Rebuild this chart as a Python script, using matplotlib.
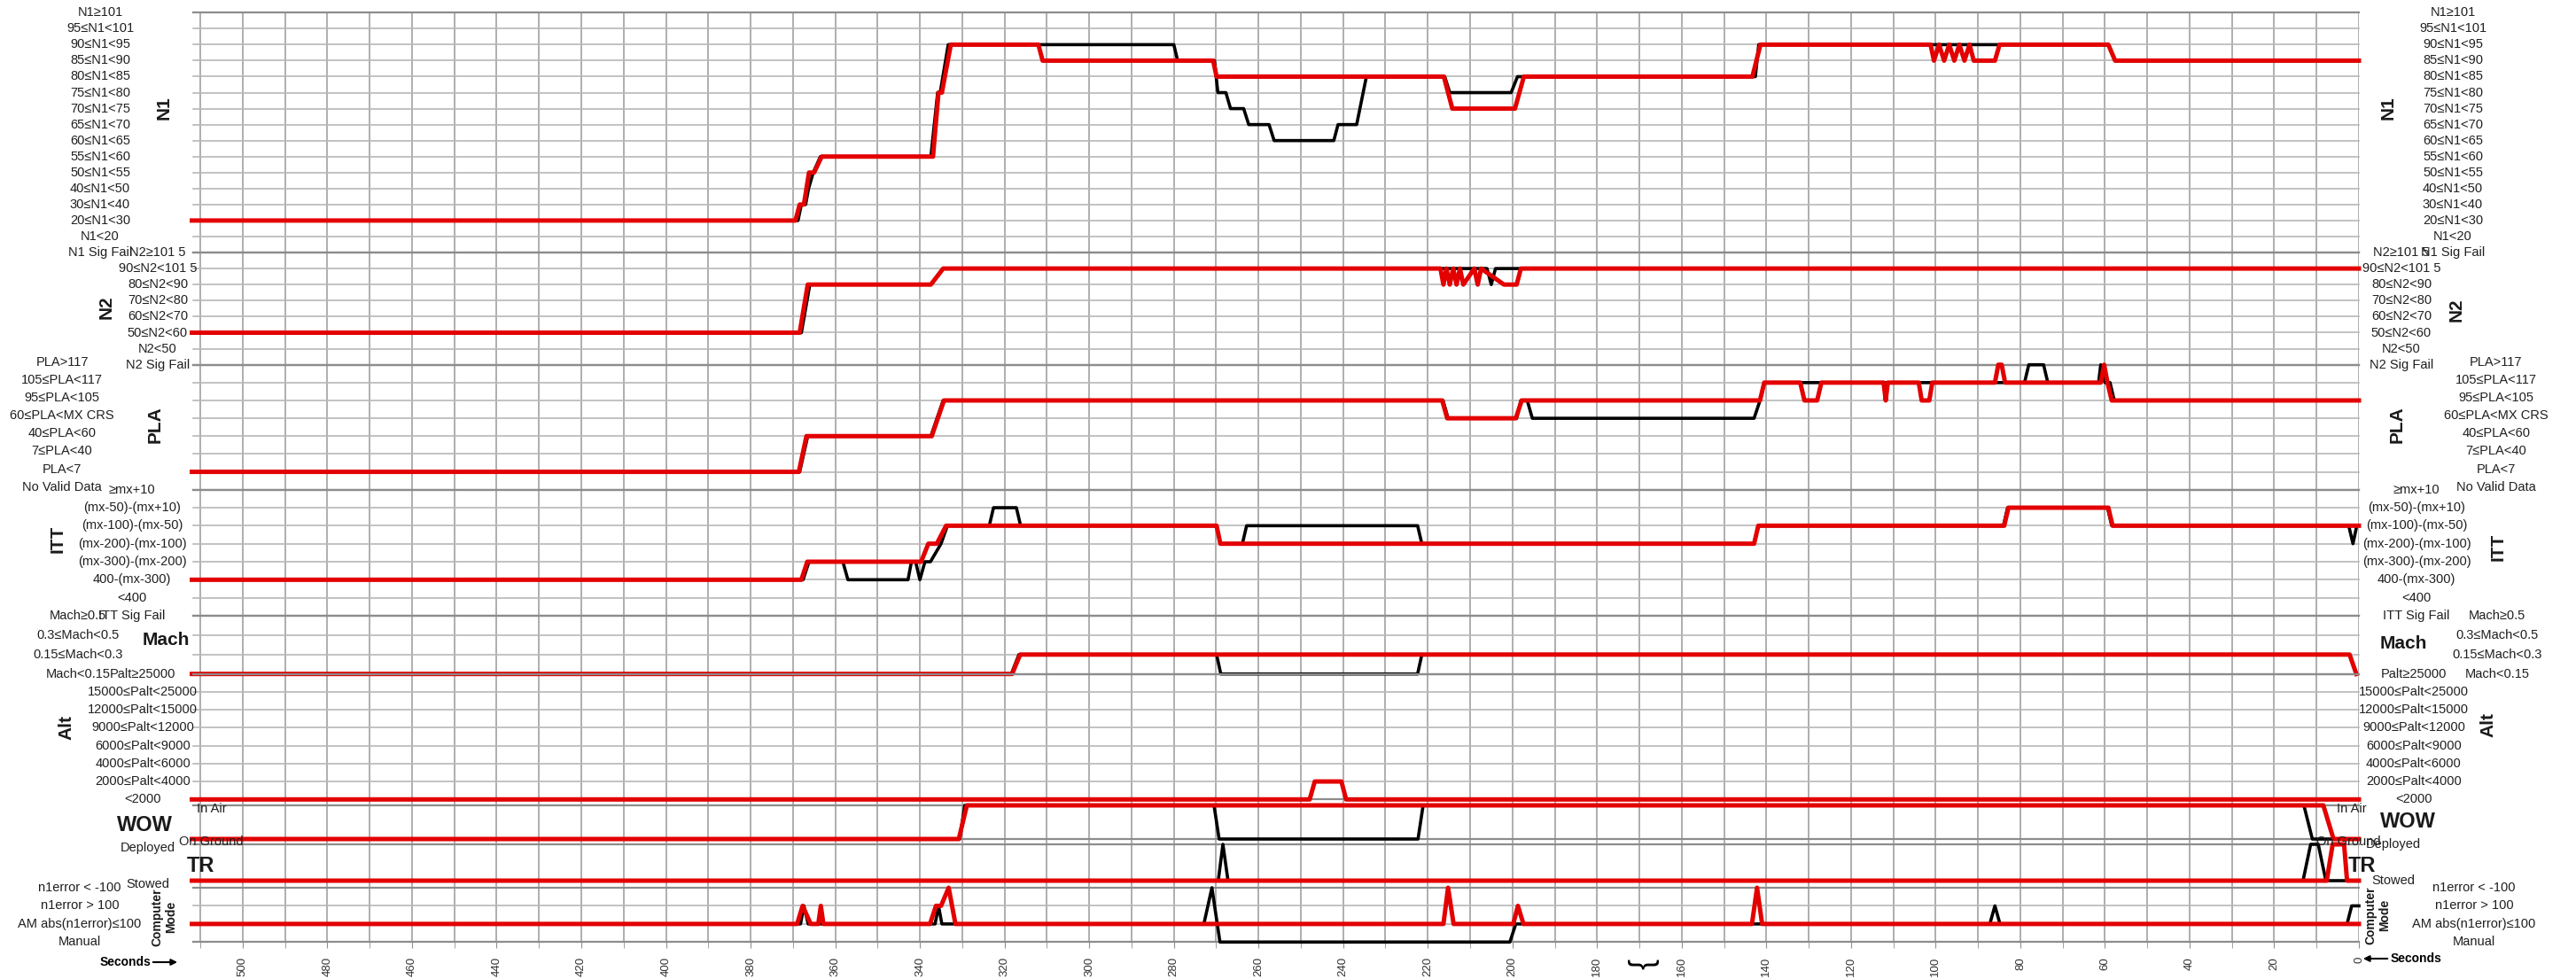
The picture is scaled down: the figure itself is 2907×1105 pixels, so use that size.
import numpy as np
import matplotlib
matplotlib.use('Agg')
import matplotlib.pyplot as plt
from matplotlib.transforms import blended_transform_factory

W, H = 2907, 1105
FONT = ['Liberation Sans Narrow', 'Liberation Sans', 'DejaVu Sans']
plt.rcParams['font.family'] = FONT

# ---------------- data: (seconds, level index, 0 = bottom row) ----------------
n1_black_t = [512, 368.8, 368.0, 367.0, 366.3, 365.2, 363.5, 337.4, 335.8, 335.2, 333.3, 280.0, 279.1,
              270.4, 269.6, 267.7, 266.6, 263.5, 262.3, 257.5, 256.3, 242.2, 241.2, 236.8, 234.5,
              216.0, 214.8, 200.3, 198.8, 142.6, 141.8, 59.2, 57.6, 0]
n1_black_v = [2, 2, 3, 3, 4, 5, 6, 6, 10, 10, 13, 13, 12,
              12, 10, 10, 9, 9, 8, 8, 7, 7, 8, 8, 11,
              11, 10, 10, 11, 11, 13, 13, 12, 12]
n1_red_t = [512, 369.4, 368.4, 367.4, 366.2, 365.0, 363.2, 336.9, 335.6, 334.8, 332.7, 312.0, 311.0,
            270.7, 269.9, 216.2, 214.2, 199.4, 197.3, 143.3, 141.4, 101.2, 100.4, 99.2, 98.0,
            96.8, 95.6, 94.4, 93.2, 92.0, 91.0, 87.6, 86.0, 84.9, 59.2, 57.6, 0]
n1_red_v = [2, 2, 3, 3, 5, 5, 6, 6, 10, 10, 13, 13, 12,
            12, 11, 11, 9, 9, 11, 11, 13, 13, 12, 13, 12,
            13, 12, 13, 12, 13, 12, 12, 12, 13, 13, 12, 12]

n2_black_t = [512, 368.0, 366.0, 337.4, 334.5, 206.0, 205.0, 204.0, 0]
n2_black_v = [2, 2, 5, 5, 6, 6, 5, 6, 6]
n2_red_t = [512, 368.4, 366.5, 337.4, 334.5, 217.0, 216.3, 215.6, 214.8, 214.0, 213.2, 212.4, 211.6,
            209.0, 208.2, 207.4, 202.0, 199.0, 198.0, 0]
n2_red_v = [2, 2, 5, 5, 6, 6, 5, 6, 5, 6, 5, 6, 5,
            6, 5, 6, 5, 5, 6, 6]

pla_black_t = [512, 368.4, 366.5, 337.4, 334.5, 216.4, 215.2, 199.0, 198.0, 196.5, 195.3, 142.9, 141.5,
               140.5, 79.0, 78.0, 74.5, 73.5, 61.5, 61.0, 60.0, 58.8, 57.8, 0]
pla_black_v = [1, 1, 3, 3, 5, 5, 4, 4, 5, 5, 4, 4, 5,
               6, 6, 7, 7, 6, 6, 7, 6, 6, 5, 5]
pla_red_t = [512, 368.6, 366.8, 337.2, 334.3, 216.6, 215.4, 199.2, 197.8, 142.9, 141.5, 140.5,
             132.0, 131.0, 128.0, 127.0, 112.3, 111.8, 111.3, 104.0, 103.3, 101.5, 100.8,
             86.0, 85.2, 84.4, 83.6, 61.0, 60.2, 59.4, 58.4, 0]
pla_red_v = [1, 1, 3, 3, 5, 5, 4, 4, 5, 5, 5, 6,
             6, 5, 5, 6, 6, 5, 6, 6, 5, 5, 6,
             6, 7, 7, 6, 6, 7, 6, 5, 5]

itt_black_t = [512, 367.6, 366.2, 358.2, 357.0, 342.8, 342.0, 341.0, 340.0, 338.8, 337.5, 335.0, 333.5,
               323.6, 322.6, 317.2, 316.2, 269.9, 269.0, 263.8, 262.8, 222.4, 221.4, 142.9, 141.9,
               84.0, 83.0, 59.4, 58.4, 2.4, 1.4, 0.5]
itt_black_v = [2, 2, 3, 3, 2, 2, 3, 3, 2, 3, 3, 4, 5,
               5, 6, 6, 5, 5, 4, 4, 5, 5, 4, 4, 5,
               5, 6, 6, 5, 5, 4, 5]
itt_red_t = [512, 368.0, 366.6, 339.7, 338.0, 336.0, 333.8, 269.9, 269.0, 142.9, 141.9, 83.8, 82.8,
             59.2, 58.2, 0]
itt_red_v = [2, 2, 3, 3, 4, 4, 5, 5, 4, 4, 5, 5, 6,
             6, 5, 5]

mach_black_t = [512, 318.4, 316.6, 269.9, 268.9, 222.4, 221.4, 2.2, 0.6]
mach_black_v = [0, 0, 1, 1, 0, 0, 1, 1, 0]
mach_red_t = [512, 318.2, 316.3, 2.2, 0.6]
mach_red_v = [0, 0, 1, 1, 0]

alt_black_t = [512, 247.9, 246.7, 240.4, 239.3, 0]
alt_black_v = [0, 0, 1, 1, 0, 0]
alt_red_t = [512, 247.9, 246.7, 240.4, 239.3, 0]
alt_red_v = [0, 0, 1, 1, 0, 0]

wow_black_t = [512, 330.6, 329.4, 270.5, 269.3, 222.3, 221.1, 13.0, 11.0, 0]
wow_black_v = [0, 0, 1, 1, 0, 0, 1, 1, 0, 0]
wow_red_t = [512, 330.8, 328.9, 8.4, 6.0, 0]
wow_red_v = [0, 0, 1, 1, 0, 0]

tr_black_t = [512, 269.5, 268.4, 267.2, 13.2, 11.4, 9.6, 7.8, 0]
tr_black_v = [0, 0, 1, 0, 0, 1, 1, 0, 0]
tr_red_t = [512, 7.6, 6.2, 3.5, 2.8, 0]
tr_red_v = [0, 0, 1, 1, 0, 0]

cm_black_t = [512, 368.2, 367.4, 366.4, 336.4, 335.6, 334.8, 272.9, 271.0, 269.1, 200.6, 199.2,
              87.2, 86.0, 84.8, 2.8, 1.7, 0]
cm_black_v = [1, 1, 2, 1, 1, 2, 1, 1, 3, 0, 0, 1,
              1, 2, 1, 1, 2, 2]
cm_red_t = [512, 369.0, 367.7, 365.8, 364.0, 363.4, 362.8, 337.6, 336.2, 335.0, 333.2, 331.6,
            216.3, 215.2, 213.9, 199.8, 198.7, 197.4, 143.4, 142.2, 141.0, 0]
cm_red_v = [1, 1, 2, 1, 1, 2, 1, 1, 2, 2, 3, 1,
            1, 3, 1, 1, 2, 1, 1, 3, 1, 1]

n1_labels = ['N1≥101', '95≤N1<101', '90≤N1<95', '85≤N1<90', '80≤N1<85', '75≤N1<80', '70≤N1<75',
             '65≤N1<70', '60≤N1<65', '55≤N1<60', '50≤N1<55', '40≤N1<50', '30≤N1<40', '20≤N1<30',
             'N1<20', 'N1 Sig Fail']
n2_labels = ['N2≥101 5', '90≤N2<101 5', '80≤N2<90', '70≤N2<80', '60≤N2<70', '50≤N2<60', 'N2<50',
             'N2 Sig Fail']
pla_labels = ['PLA>117', '105≤PLA<117', '95≤PLA<105', '60≤PLA<MX CRS', '40≤PLA<60', '7≤PLA<40',
              'PLA<7', 'No Valid Data']
itt_labels = ['≥mx+10', '(mx-50)-(mx+10)', '(mx-100)-(mx-50)', '(mx-200)-(mx-100)',
              '(mx-300)-(mx-200)', '400-(mx-300)', '<400', 'ITT Sig Fail']
mach_labels = ['Mach≥0.5', '0.3≤Mach<0.5', '0.15≤Mach<0.3', 'Mach<0.15']
alt_labels = ['Palt≥25000', '15000≤Palt<25000', '12000≤Palt<15000', '9000≤Palt<12000',
              '6000≤Palt<9000', '4000≤Palt<6000', '2000≤Palt<4000', '<2000']
tr_labels = ['Deployed', 'Stowed']
cm_labels = ['n1error < -100', 'n1error > 100', 'AM abs(n1error)≤100', 'Manual']

# ---------------- layout (figure pixels, y from top) ----------------
X0, X1 = 218, 2662
XLIM = (511.7, 0)
LBL = 10.5
fig = plt.figure(figsize=(W / 100, H / 100), dpi=100)


def fy(y):
    return 1 - y / H


# background axes holding the vertical grid and the seconds axis
bg = fig.add_axes([X0 / W, fy(1063.3), (X1 - X0) / W, (1063.3 - 14.3) / H])
bg.set_xlim(*XLIM)
bg.set_ylim(0, 1)
bg.set_xticks(np.arange(500, -1, -20))
bg.set_xticks(np.arange(510, 0, -20), minor=True)
bg.set_xticklabels([str(v) for v in range(500, -1, -20)], rotation=90, fontsize=9.5,
                   family=['Liberation Sans', 'DejaVu Sans'], color='#333333')
bg.tick_params(axis='x', which='both', length=5, color='#909090', pad=7)
bg.set_yticks([])
bg.grid(axis='x', which='both', color='#a8a8a8', lw=1.3)
for s in bg.spines.values():
    s.set_visible(False)


def panel(top, bot, n, bt, bv, rt, rv):
    ax = fig.add_axes([X0 / W, fy(bot), (X1 - X0) / W, (bot - top) / H])
    ax.set_xlim(*XLIM)
    ax.set_ylim(0, n - 1)
    ax.patch.set_alpha(0)
    ax.axis('off')
    for k in range(n):
        edge = k in (0, n - 1)
        ax.axhline(k, color='#8c8c8c' if edge else '#b8b8b8', lw=1.6 if edge else 1.2, zorder=1,
                   clip_on=False)
    ax.plot(bt, bv, color='black', lw=2.6, clip_on=False, zorder=3)
    ax.plot(rt, rv, color='#e30000', lw=3.6, clip_on=False, zorder=4)
    return ax


def labels(ax, texts, cx, size=LBL, dy=0):
    tr = blended_transform_factory(fig.transFigure, ax.transData)
    n = len(texts)
    for i, t in enumerate(texts):
        ax.text(cx / W, n - 1 - i + dy, t, transform=tr, ha='center', va='center', fontsize=size,
                color='#1f1f1f', clip_on=False)


def title(x, y, t, rot=90, size=15):
    fig.text(x / W, fy(y), t, rotation=rot, ha='center', va='center', fontsize=size,
             fontweight='bold', color='#1a1a1a')


a_n1 = panel(14.3, 285, 16, n1_black_t, n1_black_v, n1_red_t, n1_red_v)
a_n2 = panel(285, 411.7, 8, n2_black_t, n2_black_v, n2_red_t, n2_red_v)
a_pla = panel(411.7, 552.7, 8, pla_black_t, pla_black_v, pla_red_t, pla_red_v)
a_itt = panel(552.7, 695, 8, itt_black_t, itt_black_v, itt_red_t, itt_red_v)
a_mach = panel(695, 760.7, 4, mach_black_t, mach_black_v, mach_red_t, mach_red_v)
a_alt = panel(760.7, 902.3, 8, alt_black_t, alt_black_v, alt_red_t, alt_red_v)
a_wow = panel(909, 947, 2, wow_black_t, wow_black_v, wow_red_t, wow_red_v)
a_tr = panel(953, 994, 2, tr_black_t, tr_black_v, tr_red_t, tr_red_v)
a_cm = panel(1002, 1063.3, 4, cm_black_t, cm_black_v, cm_red_t, cm_red_v)

# left-hand row labels
labels(a_n1, n1_labels, 113)
labels(a_n2, n2_labels, 178)
labels(a_pla, pla_labels, 70, dy=0.15)
labels(a_itt, itt_labels, 149)
labels(a_mach, mach_labels, 88)
labels(a_alt, alt_labels, 161)
labels(a_tr, tr_labels, 167, dy=-0.1)
labels(a_cm, cm_labels, 90)
# right-hand row labels
labels(a_n1, n1_labels, 2768)
labels(a_n2, n2_labels, 2710)
labels(a_pla, pla_labels, 2817, dy=0.15)
labels(a_itt, itt_labels, 2727)
labels(a_mach, mach_labels, 2818)
labels(a_alt, alt_labels, 2724)
labels(a_tr, tr_labels, 2701)
labels(a_cm, cm_labels, 2792)

# WOW labels sit inside the plot edges
fig.text(222 / W, fy(913), 'In Air', fontsize=LBL, va='center', color='#1f1f1f')
fig.text(238 / W, fy(950), 'On Ground', fontsize=LBL, ha='center', va='center', color='#1f1f1f')
fig.text(2637 / W, fy(913), 'In Air', fontsize=LBL, va='center', color='#1f1f1f')
fig.text(2650 / W, fy(950), 'On Ground', fontsize=LBL, ha='center', va='center', color='#1f1f1f')

# panel titles
title(185, 122, 'N1')
title(120, 347, 'N2')
title(175, 479, 'PLA')
title(65, 608, 'ITT')
title(187, 723, 'Mach', rot=0)
title(75, 821, 'Alt')
title(163, 932, 'WOW', rot=0, size=17)
title(226, 977, 'TR', rot=0, size=17)
title(185, 1035, 'Computer\nMode', size=10)
title(2695, 122, 'N1')
title(2772, 350, 'N2')
title(2705, 479, 'PLA')
title(2819, 617, 'ITT')
title(2712, 727, 'Mach', rot=0)
title(2808, 818, 'Alt')
title(2717, 928, 'WOW', rot=0, size=17)
title(2665, 977, 'TR', rot=0, size=17)
title(2683, 1033, 'Computer\nMode', size=10)

# seconds arrows
fig.text(142 / W, fy(1086), 'Seconds', fontsize=10, fontweight='bold', ha='center', va='center')
bg.annotate('', xy=(203, H - 1086), xytext=(170, H - 1086), xycoords='figure pixels',
            textcoords='figure pixels', arrowprops=dict(arrowstyle='-|>', color='black', lw=1.5))
fig.text(2727 / W, fy(1082), 'Seconds', fontsize=10, fontweight='bold', ha='center', va='center')
bg.annotate('', xy=(2664, H - 1082), xytext=(2697, H - 1082), xycoords='figure pixels',
            textcoords='figure pixels', arrowprops=dict(arrowstyle='-|>', color='black', lw=1.5))

# brace under the axis
fig.text(1853 / W, fy(1088), '}', rotation=270, fontsize=26, ha='center', va='center',
         family=['Liberation Sans', 'DejaVu Sans'], fontweight='light')

fig.savefig('out.png', dpi=100, facecolor='white')
